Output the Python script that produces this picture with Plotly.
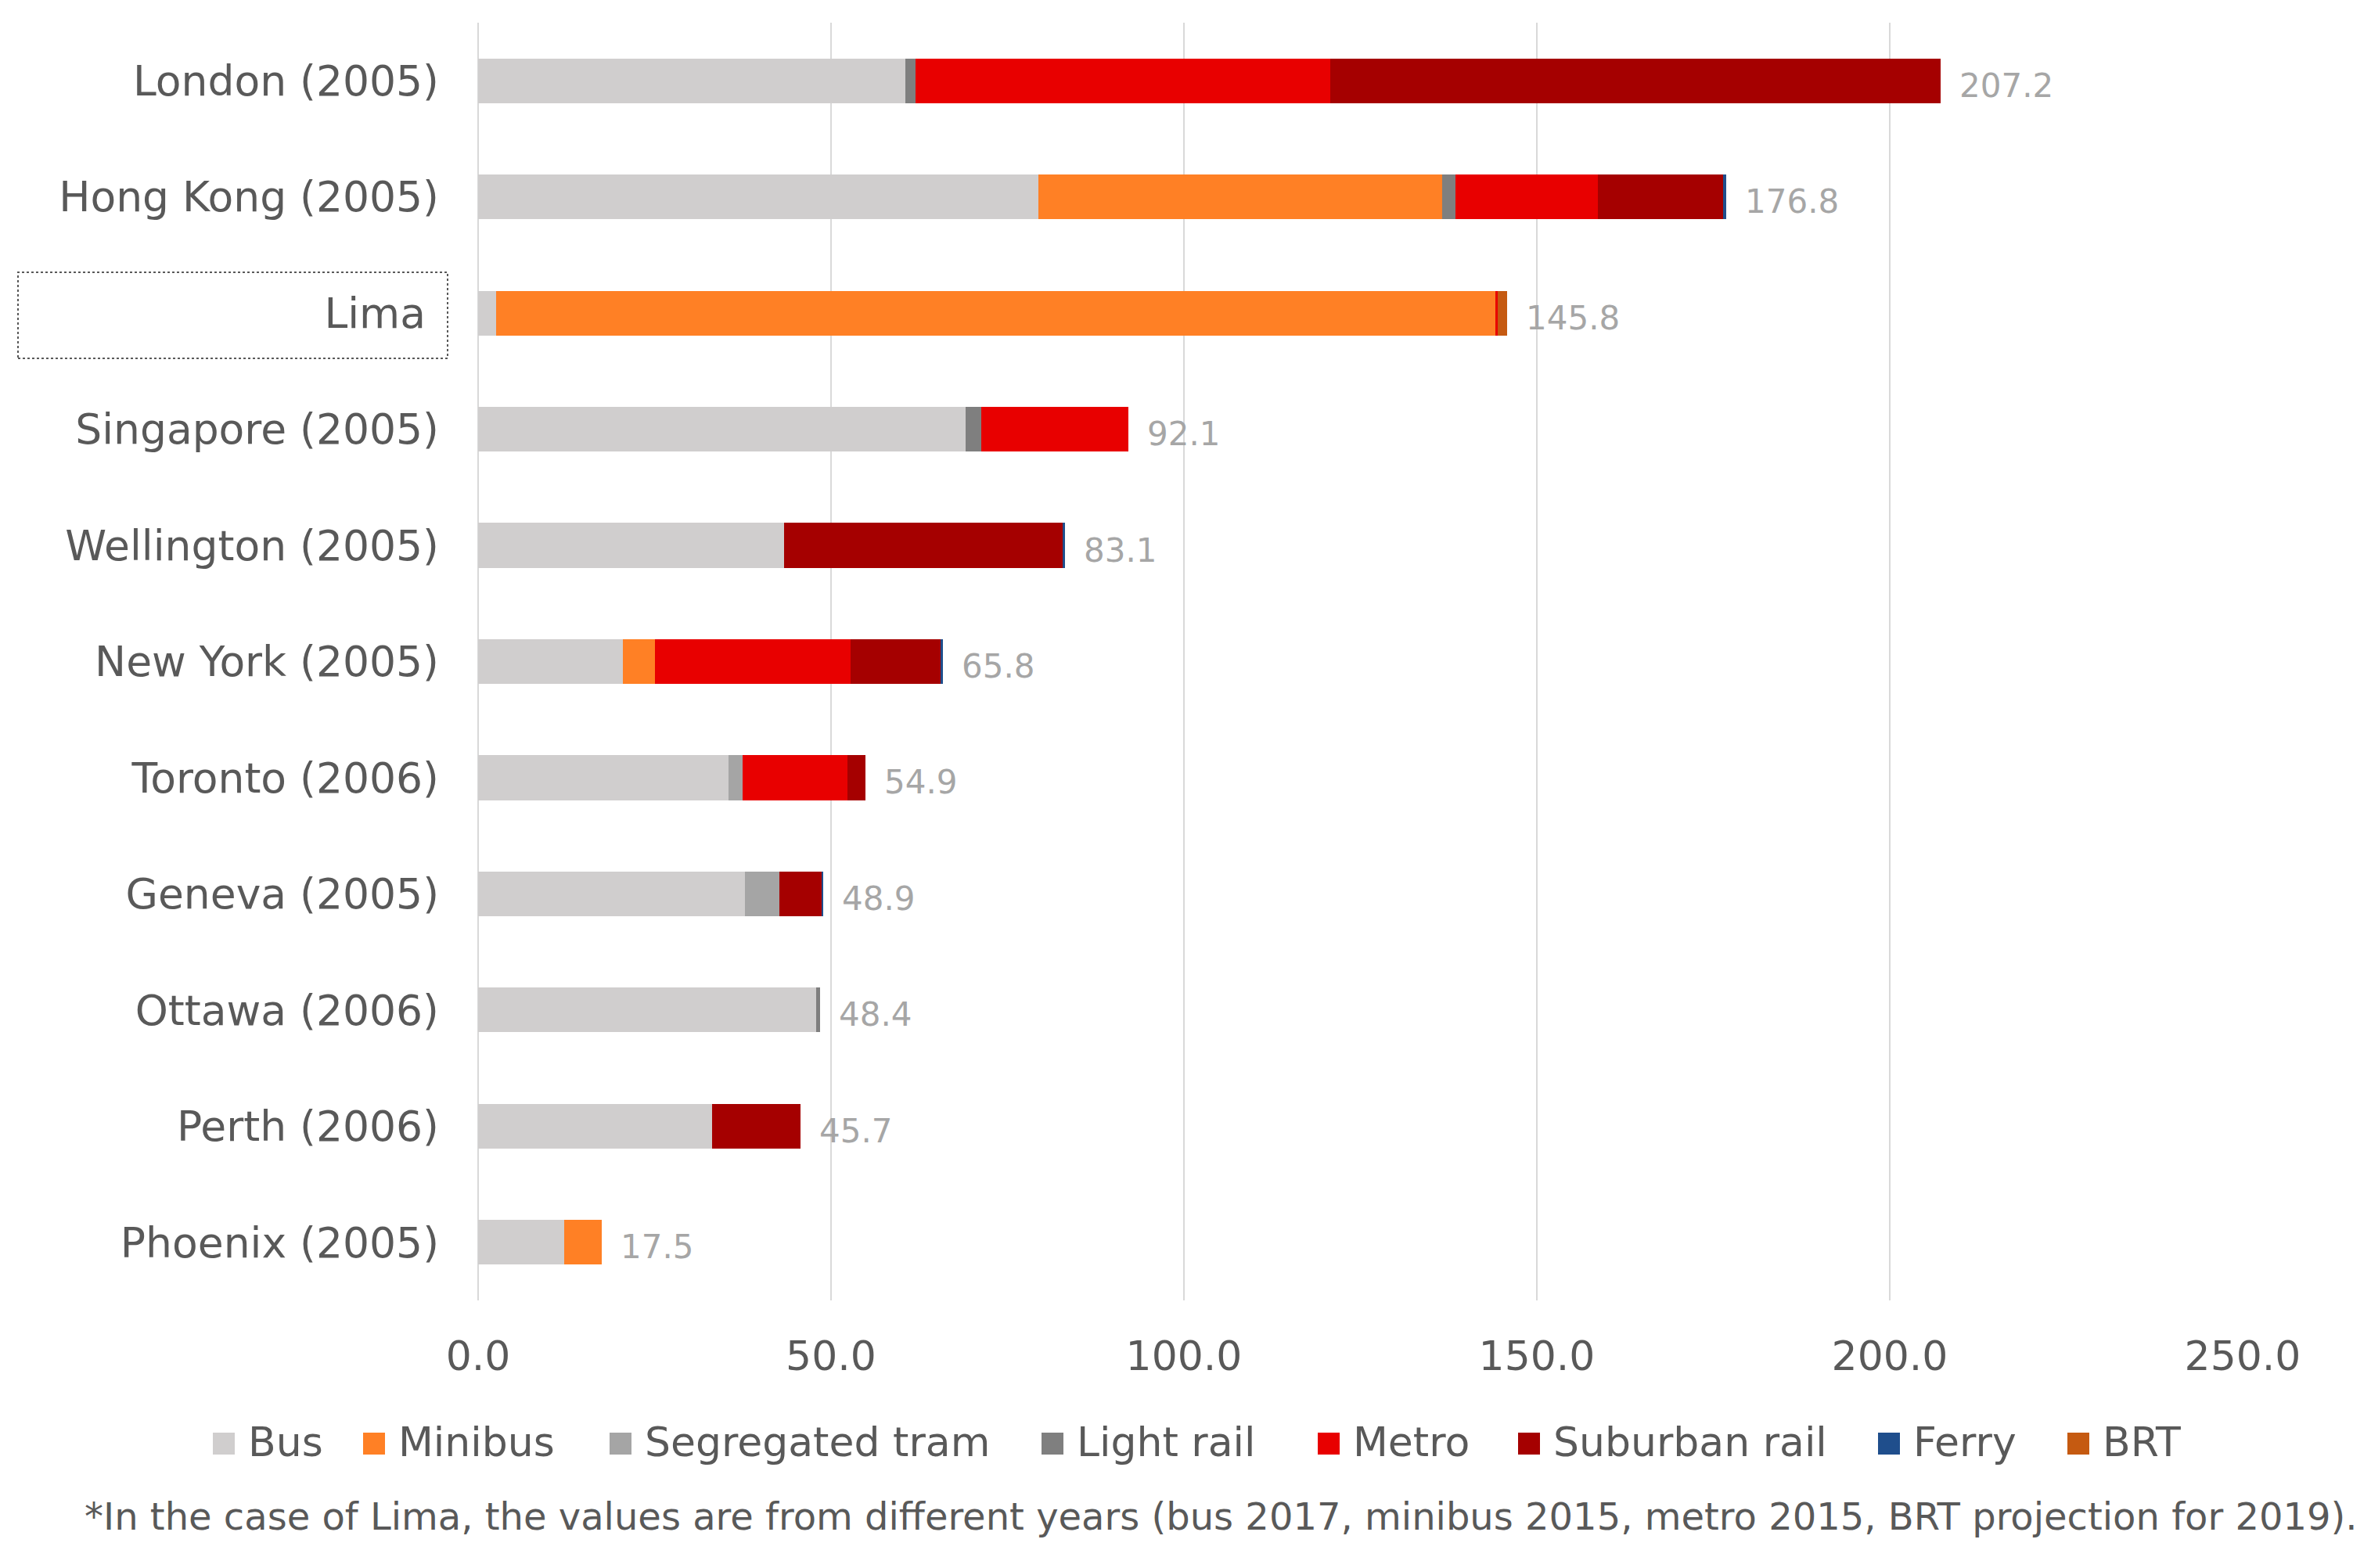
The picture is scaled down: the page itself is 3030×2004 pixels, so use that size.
import plotly.graph_objects as go

cities = ["London (2005)", "Hong Kong (2005)", "Lima", "Singapore (2005)", "Wellington (2005)",
          "New York (2005)", "Toronto (2006)", "Geneva (2005)", "Ottawa (2006)", "Perth (2006)",
          "Phoenix (2005)"]

bus        = [60.5, 79.4,   2.5, 69.1, 43.3, 20.5, 35.5, 37.8, 47.9, 33.1, 12.2]
minibus    = [0.0,  57.2, 141.6,  0.0,  0.0,  4.6,  0.0,  0.0,  0.0,  0.0,  5.3]
seg_tram   = [0.0,   0.0,   0.0,  0.0,  0.0,  0.0,  2.0,  4.9,  0.0,  0.0,  0.0]
light_rail = [1.5,   1.9,   0.0,  2.2,  0.0,  0.0,  0.0,  0.0,  0.5,  0.0,  0.0]
metro      = [58.7, 20.2,   0.4, 20.8,  0.0, 27.7, 14.8,  0.0,  0.0,  0.0,  0.0]
suburban   = [86.5, 17.7,   0.0,  0.0, 39.6, 12.8,  2.6,  6.0,  0.0, 12.6,  0.0]
ferry      = [0.0,   0.4,   0.0,  0.0,  0.2,  0.2,  0.0,  0.2,  0.0,  0.0,  0.0]
brt        = [0.0,   0.0,   1.3,  0.0,  0.0,  0.0,  0.0,  0.0,  0.0,  0.0,  0.0]

series_names = ["Bus", "Minibus", "Segregated tram", "Light rail", "Metro", "Suburban rail", "Ferry", "BRT"]
series_values = [bus, minibus, seg_tram, light_rail, metro, suburban, ferry, brt]
series_colors = ["#D0CECE", "#FF8025", "#A5A5A5", "#7F7F7F", "#E80000", "#A50000", "#1F4E8C", "#C55A11"]

x_ticks = [0, 50, 100, 150, 200, 250]

FONT = "DejaVu Sans"
TXT = "#595959"

# page geometry: the html body adds an 8px margin, so the figure is drawn 8px smaller
PAGE_OFF = 8
W, H = 3030 - PAGE_OFF, 2004 - PAGE_OFF
# plot-area in screen pixels
L, R, T, B = 611, 2866, 29, 1662

def px_x(px):
    return (px - L) / (R - L)

def px_y(py):
    return (B - py) / (B - T)

fig = go.Figure()
for name, vals, col in zip(series_names, series_values, series_colors):
    fig.add_trace(go.Bar(
        name=name, y=cities, x=vals, orientation="h",
        marker=dict(color=col, line=dict(width=0)), showlegend=False,
    ))

totals = [sum(v) for v in zip(*series_values)]
for city, tot in zip(cities, totals):
    fig.add_annotation(x=tot, y=city, xref="x", yref="y", text=f"{tot:.1f}",
                       xanchor="left", yanchor="middle", xshift=22, yshift=-6,
                       showarrow=False, font=dict(family=FONT, size=42, color="#A6A6A6"))

# the "Lima" label sits inside a padded text box in the source, so it is nudged left
y_ticktext = [c + "\u00a0" if c == "Lima" else c for c in cities]

fig.update_layout(
    width=W, height=H,
    margin=dict(l=L - PAGE_OFF, r=W - (R - PAGE_OFF), t=T - PAGE_OFF, b=H - (B - PAGE_OFF)),
    barmode="stack", bargap=0.615,
    plot_bgcolor="white", paper_bgcolor="white",
    font=dict(family=FONT, size=52, color=TXT),
    showlegend=False,
    xaxis=dict(range=[0, 250], tickvals=x_ticks, ticktext=[f"{v:.1f}" for v in x_ticks],
               showgrid=True, gridcolor="#D9D9D9", gridwidth=2,
               zeroline=True, zerolinecolor="#D9D9D9", zerolinewidth=2,
               showline=False, ticklabelstandoff=36, automargin=False,
               tickfont=dict(family=FONT, size=52, color=TXT)),
    yaxis=dict(categoryorder="array", categoryarray=cities, autorange="reversed",
               tickvals=cities, ticktext=y_ticktext,
               showgrid=False, showline=False, ticklabelstandoff=49, automargin=False,
               tickfont=dict(family=FONT, size=53.5, color=TXT)),
)

# legend drawn as squares + labels (larger swatches than plotly's native bar legend)
legend_centers_px = [286, 478, 793, 1345, 1698, 1954, 2414, 2656]
legend_y_px = 1845
sw = 28
for name, col, cx in zip(series_names, series_colors, legend_centers_px):
    fig.add_shape(type="rect", xref="paper", yref="paper",
                  x0=px_x(cx - sw / 2), x1=px_x(cx + sw / 2),
                  y0=px_y(legend_y_px + sw / 2), y1=px_y(legend_y_px - sw / 2),
                  line=dict(width=0), fillcolor=col)
    fig.add_annotation(text=name, xref="paper", yref="paper",
                       x=px_x(cx + 29), y=px_y(legend_y_px - 2), xanchor="left", yanchor="middle",
                       showarrow=False, font=dict(family=FONT, size=52, color=TXT))

# dotted selection box around the "Lima" label (as in the source image)
fig.add_shape(type="rect", xref="paper", yref="paper",
              x0=px_x(23), x1=px_x(572), y0=px_y(458), y1=px_y(348),
              line=dict(color="#595959", width=2, dash="dot"), fillcolor="rgba(0,0,0,0)")

fig.add_annotation(
    text="*In the case of Lima, the values are from different years (bus 2017, minibus 2015, metro 2015, BRT projection for 2019).",
    xref="paper", yref="paper", x=px_x(106), y=px_y(1938), xanchor="left", yanchor="middle",
    showarrow=False, font=dict(family=FONT, size=48, color=TXT),
)

fig.write_html("out.html")
